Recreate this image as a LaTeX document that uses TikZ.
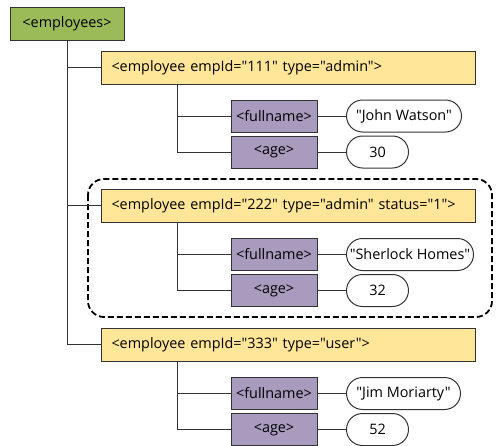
\documentclass[tikz,border=0pt]{standalone}
\usepackage{fontspec}
\setmainfont{Open Sans}[Ligatures=TeXOff]
\newdimen\px \px=0.75pt
\newcommand\mynodefont{\fontsize{10.8}{13}\selectfont}
\newcommand\empfont{\fontsize{10.8}{13}\selectfont\spaceskip=0.5em plus 0pt minus 0pt\relax}
\definecolor{rootgreen}{HTML}{9BBB59}
\definecolor{empyellow}{HTML}{FFE699}
\definecolor{tagpurple}{HTML}{A99BBE}
\definecolor{linegray}{HTML}{333333}
\begin{document}
\begin{tikzpicture}[x=0.75pt,y=-0.75pt,
  every node/.style={font=\mynodefont, text=black},
  rootbox/.style={draw=linegray, line width=1\px, fill=rootgreen, minimum width=114\px, minimum height=33\px, inner sep=0pt},
  empbox/.style={draw=linegray, line width=1\px, fill=empyellow, text width=354\px, align=left, inner xsep=10\px, minimum height=33\px, inner ysep=0pt, font=\empfont},
  tagbox/.style={draw=linegray, line width=1\px, fill=tagpurple, minimum width=86\px, minimum height=32\px, inner sep=0pt},
  valbox/.style={draw=linegray, line width=1\px, fill=white, rounded corners=16\px, minimum height=32\px, inner sep=0pt},
  conn/.style={draw=linegray, line width=1\px},
  group/.style={draw=black, line width=1.8\px, dash pattern=on 6\px off 3\px, rounded corners=16\px}
]
\useasboundingbox (0,0) rectangle (496,446);
% group
\draw[group] (88,179) rectangle (492,317);
% root
\node[rootbox] (emps) at (67,23.5) {<employees>};
% employees
\node[empbox, anchor=west] (e1) at (101,67.5) {\mbox{<employee empId="111" type="admin">}};
\node[empbox, anchor=west] (e2) at (101,205.5) {\mbox{<employee empId="222" type="admin" status="1">}};
\node[empbox, anchor=west] (e3) at (101,344.5) {\mbox{<employee empId="333" type="user">}};
% tags
\node[tagbox] (f1) at (274,116) {<fullname>};
\node[tagbox] (a1) at (274,152) {<age>};
\node[tagbox] (f2) at (274,254.5) {<fullname>};
\node[tagbox] (a2) at (274,290.5) {<age>};
\node[tagbox] (f3) at (274,393.5) {<fullname>};
\node[tagbox] (a3) at (274,429.5) {<age>};
% values
\node[valbox, anchor=west, minimum width=115\px] (v1) at (346,116) {"John Watson"};
\node[valbox, anchor=west, minimum width=62\px] (n1) at (346,152) {30};
\node[valbox, anchor=west, minimum width=127\px] (v2) at (346,254.5) {"Sherlock Homes"};
\node[valbox, anchor=west, minimum width=62\px] (n2) at (346,290.5) {32};
\node[valbox, anchor=west, minimum width=114\px] (v3) at (346,393.5) {"Jim Moriarty"};
\node[valbox, anchor=west, minimum width=62\px] (n3) at (346,429.5) {52};
% connectors
\draw[conn] (emps.south) |- (e1.west);
\draw[conn] (emps.south) |- (e2.west);
\draw[conn] (emps.south) |- (e3.west);
\foreach \e/\f/\a in {e1/f1/a1, e2/f2/a2, e3/f3/a3}{
  \draw[conn] ([xshift=76\px]\e.south west) |- (\f.west);
  \draw[conn] ([xshift=76\px]\e.south west) |- (\a.west);
}
\foreach \t/\v in {f1/v1, a1/n1, f2/v2, a2/n2, f3/v3, a3/n3}{
  \draw[conn] (\t.east) -- (\v.west);
}
\end{tikzpicture}
\end{document}
